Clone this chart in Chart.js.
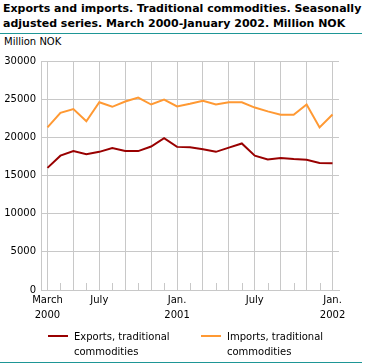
<!DOCTYPE html>
<html>
<head>
<meta charset="utf-8">
<script src="https://cdn.jsdelivr.net/npm/chart.js@4"></script>
<style>
  body { margin: 0; background: #fff; font-family: "DejaVu Sans", sans-serif; }
  #wrap { position: relative; width: 370px; height: 363px; overflow: hidden; }
  #chart { position: absolute; left: 0; top: 0; }
  .title { position: absolute; left: 3px; top: 1px; font-weight: bold; font-size: 11px; line-height: 15px; color: #000; white-space: nowrap; }
  .rule { position: absolute; left: 0; width: 362px; height: 1px; background: #1e9696; }
  .unit { position: absolute; left: 4px; top: 36px; font-size: 10px; color: #000; }
  .leg { position: absolute; top: 329px; font-size: 10px; line-height: 15px; color: #000; }
  .sw { position: absolute; top: 335px; width: 20px; height: 2px; }
</style>
</head>
<body>
<div id="wrap">
  <div class="title">Exports and imports. Traditional commodities. Seasonally<br>adjusted series. March 2000-January 2002. Million NOK</div>
  <div class="rule" style="top:33px"></div>
  <div class="unit">Million NOK</div>
  <canvas id="chart" width="370" height="363"></canvas>
  <div class="sw" style="left:48px;background:#990000"></div>
  <div class="leg" style="left:74px">Exports, traditional<br>commodities</div>
  <div class="sw" style="left:201px;background:#ff9933"></div>
  <div class="leg" style="left:227px">Imports, traditional<br>commodities</div>
  <div class="rule" style="top:362px"></div>
</div>
<script>
const months = ['2000-03','2000-04','2000-05','2000-06','2000-07','2000-08','2000-09','2000-10','2000-11','2000-12',
  '2001-01','2001-02','2001-03','2001-04','2001-05','2001-06','2001-07','2001-08','2001-09','2001-10','2001-11','2001-12','2002-01'];
const tickLabels = [['March','2000'],'','','','July','','','','','',['Jan.','2001'],'','','','','','July','','','','','',['Jan.','2002']];
const exportsTrad = [16000,17600,18200,17800,18100,18600,18200,18200,18800,19900,18750,18700,18450,18100,18650,19200,17600,17100,17300,17150,17050,16650,16600];
const importsTrad = [21300,23200,23700,22100,24600,24000,24700,25200,24300,24950,24050,24400,24800,24300,24600,24600,23900,23400,22950,22950,24300,21300,23000];
const yTicks = [0,5000,10000,15000,20000,25000,30000];

const gridColor = '#c8c8c8';
const chartCanvas = document.getElementById('chart');

// short month ticks between the gridlines
const minorTicks = {
  id: 'minorTicks',
  afterDatasetsDraw(chart) {
    const x = chart.scales.x;
    const ctx = chart.ctx;
    const bottom = chart.chartArea.bottom;
    ctx.save();
    ctx.strokeStyle = gridColor;
    ctx.lineWidth = 1;
    months.forEach((m, i) => {
      if (i % 2 === 1) {
        const px = Math.round(x.getPixelForTick(i)) + 0.5;
        ctx.beginPath();
        ctx.moveTo(px, bottom - 7);
        ctx.lineTo(px, bottom);
        ctx.stroke();
      }
    });
    ctx.restore();
  }
};

new Chart(chartCanvas, {
  type: 'line',
  data: {
    labels: months,
    datasets: [{
      label: 'Imports, traditional commodities',
      data: importsTrad,
      borderColor: '#ff9933',
      borderWidth: 2,
      pointRadius: 0,
      tension: 0
    }, {
      label: 'Exports, traditional commodities',
      data: exportsTrad,
      borderColor: '#990000',
      borderWidth: 2,
      pointRadius: 0,
      tension: 0
    }]
  },
  options: {
    responsive: false,
    animation: false,
    layout: { padding: { left: 0, top: 61, right: 31, bottom: 33 } },
    plugins: { legend: { display: false }, tooltip: { enabled: false } },
    scales: {
      x: {
        offset: true,
        afterFit(scale) { scale.height = 40; },
        border: { color: gridColor },
        grid: {
          drawTicks: false,
          color: ctx => (ctx.index % 2 === 0 ? gridColor : 'rgba(0,0,0,0)')
        },
        ticks: {
          autoSkip: false,
          maxRotation: 0,
          padding: 3,
          color: '#000',
          font: { family: 'DejaVu Sans', size: 10, lineHeight: 1.5 },
          callback: (v, i) => tickLabels[i]
        }
      },
      y: {
        min: 0,
        max: 30000,
        afterFit(scale) { scale.width = 41; },
        afterBuildTicks(scale) { scale.ticks = yTicks.map(v => ({ value: v })); },
        border: { color: gridColor },
        grid: { drawTicks: false, color: gridColor },
        ticks: {
          padding: 5,
          color: '#000',
          font: { family: 'DejaVu Sans', size: 10 },
          callback: v => String(v)
        }
      }
    }
  },
  plugins: [minorTicks]
});
</script>
</body>
</html>
